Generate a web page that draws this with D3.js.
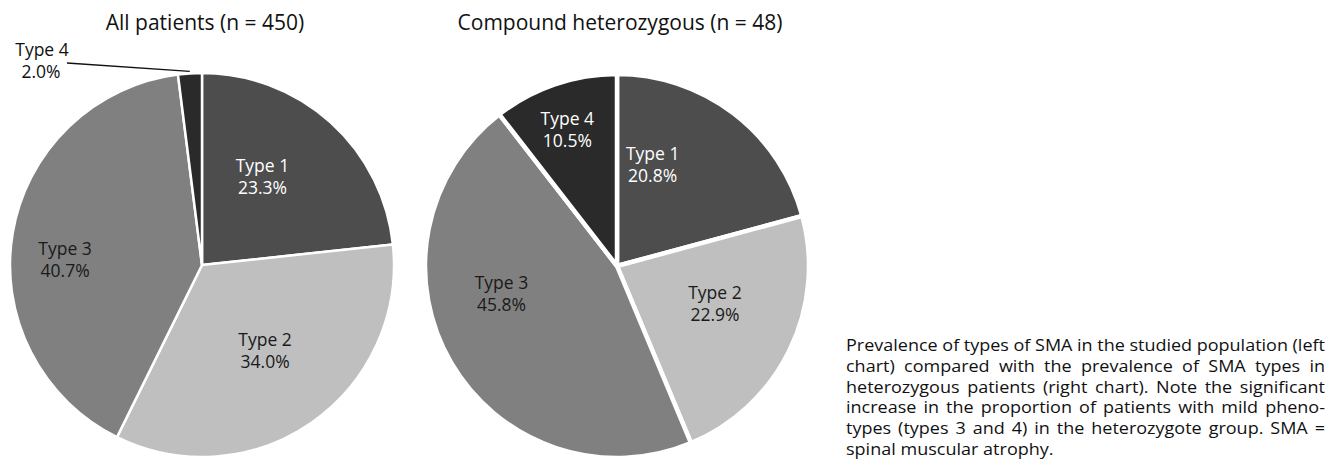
<!DOCTYPE html>
<html>
<head>
<meta charset="utf-8">
<script src="https://cdn.jsdelivr.net/npm/d3@7"></script>
<style>
  body { margin: 0; background: #fff; }
  text { font-family: "Open Sans", sans-serif; }
</style>
</head>
<body>
<script>
// chart data
var types = ["Type 1", "Type 2", "Type 3", "Type 4"];
var allPatients = [23.3, 34.0, 40.7, 2.0];
var compoundHet = [20.8, 22.9, 45.8, 10.5];
var titles = ["All patients (n = 450)", "Compound heterozygous (n = 48)"];
var captionLines = [
  "Prevalence of types of SMA in the studied population (left",
  "chart) compared with the prevalence of SMA types in",
  "heterozygous patients (right chart). Note the significant",
  "increase in the proportion of patients with mild pheno-",
  "types (types 3 and 4) in the heterozygote group. SMA =",
  "spinal muscular atrophy."
];

var width = 1338, height = 461;
var fills = ["#4d4d4d", "#bfbfbf", "#808080", "#2a2a2a"];
var labelFill = ["#fff", "#1a1a1a", "#1a1a1a", "#fff"];

// label placement inside each slice: [radius, position along the slice 0..1]
var leftLabelPos = [[107, 0.41], [107, 0.49], [137, 0.45], null];
var rightLabelPos = [[107, 0.26], [105, 0.44], [119, 0.6], [145, 0.47]];

var svg = d3.select("body").append("svg")
    .attr("width", width)
    .attr("height", height);

var pie = d3.pie().sort(null).value(function(d) { return d; });
var radius = 192;
var arc = d3.arc().innerRadius(0).outerRadius(radius);

function drawPie(values, cx, cy, title, stroke) {
  var g = svg.append("g").attr("transform", "translate(" + cx + "," + cy + ")");
  var arcs = pie(values);
  g.selectAll("path")
    .data(arcs)
    .enter().append("path")
    .attr("d", arc)
    .attr("fill", function(d, i) { return fills[i]; })
    .attr("stroke", "#fff")
    .attr("stroke-width", stroke)
    .attr("stroke-linejoin", "round");

  svg.append("text")
    .attr("x", cx + 3)
    .attr("y", 30)
    .attr("text-anchor", "middle")
    .style("font-size", "21px")
    .style("fill", "#111")
    .text(title);
  return { g: g, arcs: arcs };
}

var left = drawPie(allPatients, 202, 265, titles[0], 2.5);
var right = drawPie(compoundHet, 617, 266, titles[1], 4.5);

function addLabels(p, pos) {
  p.arcs.forEach(function(d, i) {
    if (!pos[i]) return;
    var a = d.startAngle + (d.endAngle - d.startAngle) * pos[i][1];
    var x = Math.sin(a) * pos[i][0], y = -Math.cos(a) * pos[i][0];
    var g = p.g.append("g")
      .style("font-size", "17.5px")
      .style("fill", labelFill[i])
      .attr("text-anchor", "middle");
    g.append("text").attr("x", x).attr("y", y - 5).text(types[i]);
    g.append("text").attr("x", x).attr("y", y + 17).text(d.value.toFixed(1) + "%");
  });
}

addLabels(left, leftLabelPos);
addLabels(right, rightLabelPos);

// outside label for the small slice on the left pie
var small = left.arcs[3];
var edge = d3.arc().innerRadius(radius + 2).outerRadius(radius + 2).centroid(small);
var lt = left.g.append("g")
  .attr("text-anchor", "middle")
  .style("font-size", "17.5px")
  .style("fill", "#111");
lt.append("text").attr("x", -160).attr("y", -209).text(types[3]);
lt.append("text").attr("x", -161).attr("y", -187).text(small.value.toFixed(1) + "%");
left.g.append("line")
  .attr("x1", -135).attr("y1", -202)
  .attr("x2", edge[0]).attr("y2", edge[1])
  .attr("stroke", "#111")
  .attr("stroke-width", 1.3);

// justified caption (glyphs a little wider than plain Open Sans)
var capX = 846, capW = 479, capY = 351, lineH = 20.8, stretch = 1.06;
captionLines.forEach(function(line, li) {
  var words = line.split(" ");
  var g = svg.append("g")
    .attr("transform", "translate(" + capX + "," + (capY + li * lineH) + ") scale(" + stretch + ",1)");
  var nodes = words.map(function(w) {
    return g.append("text").style("font-size", "17px").style("fill", "#111").text(w);
  });
  var widths = nodes.map(function(n) { return n.node().getComputedTextLength(); });
  var total = d3.sum(widths);
  var last = li === captionLines.length - 1;
  var gap = last ? 4.5 : (capW / stretch - total) / (words.length - 1);
  var x = 0;
  nodes.forEach(function(n, wi) {
    n.attr("x", x);
    x += widths[wi] + gap;
  });
});
</script>
</body>
</html>
